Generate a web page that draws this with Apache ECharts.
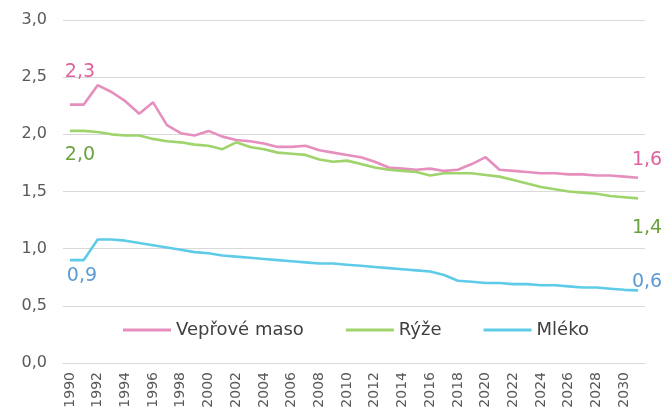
<!DOCTYPE html>
<html>
<head>
<meta charset="utf-8">
<script src="https://cdn.jsdelivr.net/npm/echarts@6/dist/echarts.min.js"></script>
<style>
  html, body { margin: 0; padding: 0; background: #fff; }
  #chart { width: 665px; height: 419px; }
</style>
</head>
<body>
<div id="chart"></div>
<script>
const years = [
  "1990", "1991", "1992", "1993", "1994", "1995", "1996", "1997", "1998", "1999",
  "2000", "2001", "2002", "2003", "2004", "2005", "2006", "2007", "2008", "2009",
  "2010", "2011", "2012", "2013", "2014", "2015", "2016", "2017", "2018", "2019",
  "2020", "2021", "2022", "2023", "2024", "2025", "2026", "2027", "2028", "2029",
  "2030", "2031",
];

const veprove = [
  2.26, 2.26, 2.43, 2.37, 2.29, 2.18, 2.28, 2.08, 2.01, 1.99,
  2.03, 1.98, 1.95, 1.94, 1.92, 1.89, 1.89, 1.90, 1.86, 1.84,
  1.82, 1.80, 1.76, 1.71, 1.70, 1.69, 1.70, 1.68, 1.69, 1.74,
  1.80, 1.69, 1.68, 1.67, 1.66, 1.66, 1.65, 1.65, 1.64, 1.64,
  1.63, 1.62,
];

const ryze = [
  2.03, 2.03, 2.02, 2.00, 1.99, 1.99, 1.96, 1.94, 1.93, 1.91,
  1.90, 1.87, 1.93, 1.89, 1.87, 1.84, 1.83, 1.82, 1.78, 1.76,
  1.77, 1.74, 1.71, 1.69, 1.68, 1.67, 1.64, 1.66, 1.66, 1.66,
  1.645, 1.63, 1.60, 1.57, 1.54, 1.52, 1.50, 1.49, 1.48, 1.46,
  1.45, 1.44,
];

const mleko = [
  0.90, 0.90, 1.08, 1.08, 1.07, 1.05, 1.03, 1.01, 0.99, 0.97,
  0.96, 0.94, 0.93, 0.92, 0.91, 0.90, 0.89, 0.88, 0.87, 0.87,
  0.86, 0.85, 0.84, 0.83, 0.82, 0.81, 0.80, 0.77, 0.72, 0.71,
  0.70, 0.70, 0.69, 0.69, 0.68, 0.68, 0.67, 0.66, 0.66, 0.65,
  0.64, 0.635,
];

const yTicks = [0, 0.5, 1, 1.5, 2, 2.5, 3];

const FONT = "DejaVu Sans";
const fmt = (v) => v.toFixed(1).replace(".", ",");

// first / last point get the value label, shifted like in the original
const withEndLabels = (values, color, startOffset, endOffset) =>
  values.map((v, i) => {
    const isStart = i === 0;
    const isEnd = i === values.length - 1;
    if (!isStart && !isEnd) return v;
    return {
      value: v,
      label: {
        show: true,
        position: "inside",
        offset: isStart ? startOffset : endOffset,
        formatter: (p) => fmt(p.value),
        color,
        fontFamily: FONT,
        fontSize: 19,
      },
    };
  });

const makeSeries = (name, values, lineColor, textColor, startOffset, endOffset) => ({
  name,
  type: "line",
  data: withEndLabels(values, textColor, startOffset, endOffset),
  symbol: "circle",
  symbolSize: 0.1,
  showAllSymbol: true,
  lineStyle: { width: 2.6, color: lineColor },
  itemStyle: { color: lineColor },
  emphasis: { disabled: true },
});

const chart = echarts.init(document.getElementById("chart"));

chart.setOption({
  animation: false,
  grid: { left: 63, right: 20, top: 20, bottom: 56 },
  legend: {
    left: 118,
    top: 316,
    icon: "rect",
    itemWidth: 48,
    itemHeight: 3,
    itemGap: 42,
    textStyle: { fontFamily: FONT, fontSize: 18, color: "#404040" },
    data: ["Vepřové maso", "Rýže", "Mléko"],
  },
  xAxis: {
    type: "category",
    data: years,
    boundaryGap: true,
    axisTick: { show: false },
    axisLine: { lineStyle: { color: "#d9d9d9" } },
    axisLabel: {
      rotate: 90,
      interval: 1,
      margin: 9,
      color: "#595959",
      fontFamily: FONT,
      fontSize: 14,
    },
  },
  yAxis: {
    type: "value",
    min: yTicks[0],
    max: yTicks[yTicks.length - 1],
    interval: 0.5,
    axisLine: { show: false },
    axisTick: { show: false },
    splitLine: { lineStyle: { color: "#d9d9d9" } },
    axisLabel: {
      margin: 16,
      color: "#595959",
      fontFamily: FONT,
      fontSize: 16,
      formatter: fmt,
    },
  },
  series: [
    makeSeries("Vepřové maso", veprove, "#e68fbe", "#e0629f", [10, -33], [9, -18]),
    makeSeries("Rýže", ryze, "#9fd36b", "#6aa23f", [10, 24], [9, 30]),
    makeSeries("Mléko", mleko, "#5ecbe8", "#5b9ad4", [12, 16], [9, -8]),
  ],
});
</script>
</body>
</html>
